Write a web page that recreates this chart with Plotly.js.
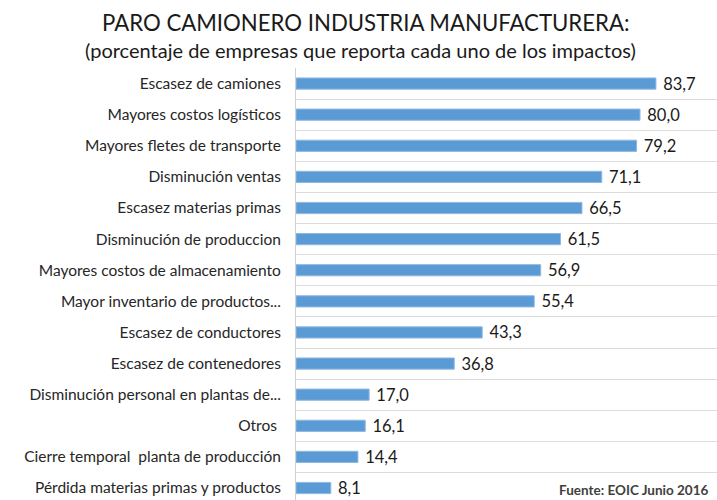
<!DOCTYPE html>
<html>
<head>
<meta charset="utf-8">
<script src="https://cdn.plot.ly/plotly-3.0.1.min.js"></script>
<style>html,body{margin:0;padding:0;background:#fff;}#chart{width:717px;height:500px;}</style>
</head>
<body>
<div id="chart"></div>
<script>
const categories = [
  "Escasez de camiones",
  "Mayores costos logísticos",
  "Mayores fletes de transporte",
  "Disminución ventas",
  "Escasez materias primas",
  "Disminución de produccion",
  "Mayores costos de almacenamiento",
  "Mayor inventario de productos...",
  "Escasez de conductores",
  "Escasez de contenedores",
  "Disminución personal en plantas de...",
  "Otros ",
  "Cierre temporal  planta de producción",
  "Pérdida materias primas y productos"
];
const values = [83.7, 80.0, 79.2, 71.1, 66.5, 61.5, 56.9, 55.4, 43.3, 36.8, 17.0, 16.1, 14.4, 8.1];
const titleText = "PARO CAMIONERO INDUSTRIA MANUFACTURERA:";
const subtitleText = "(porcentaje de empresas que reporta cada uno de los impactos)";
const sourceText = "Fuente: EOIC Junio 2016";

const FONT = "Lato, 'Open Sans', sans-serif";

const trace = {
  type: 'bar',
  orientation: 'h',
  y: categories,
  x: values,
  marker: {color: '#5b9bd5', line: {color: '#8fb8e2', width: 1}},
  text: values,
  texttemplate: '\u00a0%{x:.1f}',
  textposition: 'outside',
  constraintext: 'none',
  cliponaxis: false,
  textfont: {family: FONT, size: 16.5, color: '#1a1a1a'},
  hoverinfo: 'skip'
};

const layout = {
  width: 717, height: 500,
  margin: {l: 296, r: 0, t: 68, b: 0},
  paper_bgcolor: '#fff', plot_bgcolor: '#fff',
  separators: ',.',
  showlegend: false,
  bargap: 0.64,
  font: {family: FONT, color: '#262626'},
  xaxis: {range: [0, 97.9], visible: false, fixedrange: true},
  yaxis: {
    type: 'category',
    range: [13.385, -0.5],
    tickson: 'boundaries',
    showgrid: true, gridcolor: '#dcdcdc', gridwidth: 1,
    showline: true, linecolor: '#d0d0d0', linewidth: 1,
    ticks: '', ticklabelstandoff: 11,
    tickfont: {family: FONT, size: 15.5, color: '#262626'},
    zeroline: false, fixedrange: true
  },
  annotations: [
    {text: titleText, xref: 'paper', yref: 'paper', x: 0.18, y: 1, xanchor: 'center', yanchor: 'bottom',
     showarrow: false, font: {family: FONT, size: 22.2, color: '#1a1a1a'}, yshift: 30},
    {text: subtitleText, xref: 'paper', yref: 'paper', x: 0.15, y: 1, xanchor: 'center', yanchor: 'bottom',
     showarrow: false, font: {family: FONT, size: 20, color: '#1a1a1a'}, yshift: 4},
    {text: '<b>' + sourceText + '</b>', xref: 'paper', yref: 'paper', x: 0.985, y: 0, xanchor: 'right', yanchor: 'bottom',
     showarrow: false, font: {family: FONT, size: 13.5, color: '#404040'}, yshift: 0}
  ]
};

const plotW = 717 - 296;
layout.annotations[0].x = (366 - 296) / plotW;
layout.annotations[1].x = (360 - 296) / plotW;

Plotly.newPlot('chart', [trace], layout, {displayModeBar: false, staticPlot: true});
</script>
</body>
</html>
